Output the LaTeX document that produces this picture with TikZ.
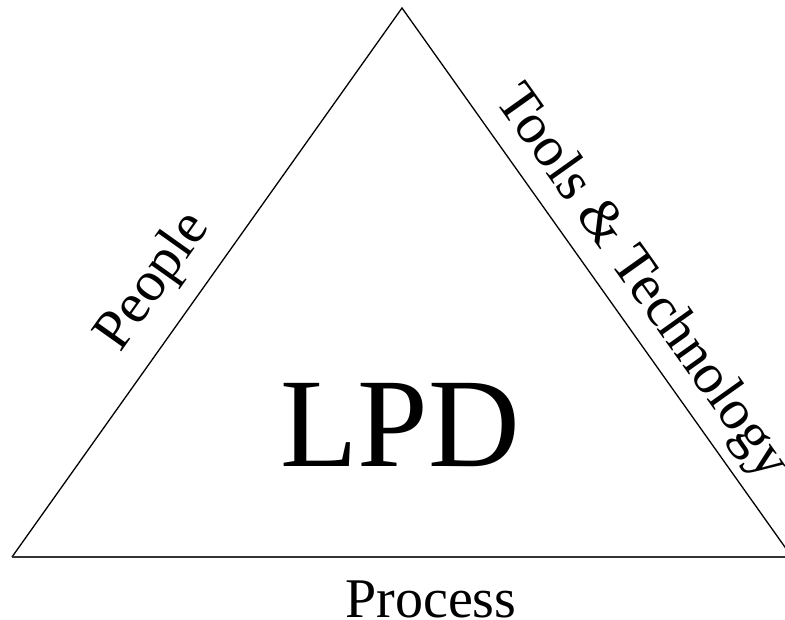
\documentclass[tikz,border=0pt]{standalone}
\usepackage{fontspec}
\setmainfont{Liberation Serif}
\begin{document}
\begin{tikzpicture}[x=1pt,y=-1pt,
  side/.style={line width=1.3pt,black},
  base/.style={line width=2pt,black!80},
  label/.style={inner sep=0pt,font=\fontsize{57}{60}\selectfont}]
\useasboundingbox (0,0) rectangle (785,620);
\clip (0,0) rectangle (785,620);
% triangle corners
\coordinate (A) at (402,8);
\coordinate (B) at (12,557);
\coordinate (C) at (792,557);
\draw[side] (B) -- (A) -- (C);
\draw[base] (B) -- (C);
% labels
\node[inner sep=0pt,anchor=base,font=\fontsize{127}{130}\selectfont] (lpd) at (400,466) {LPD};
\node[inner sep=0pt,anchor=base,font=\fontsize{56}{60}\selectfont] (process) at (431,617) {Process};
\node[label,rotate=54.6] (people) at (154,282) {People};
\node[label,rotate=-54.6] (tools) at (641,283) {Tools \& Technology};
\end{tikzpicture}
\end{document}
